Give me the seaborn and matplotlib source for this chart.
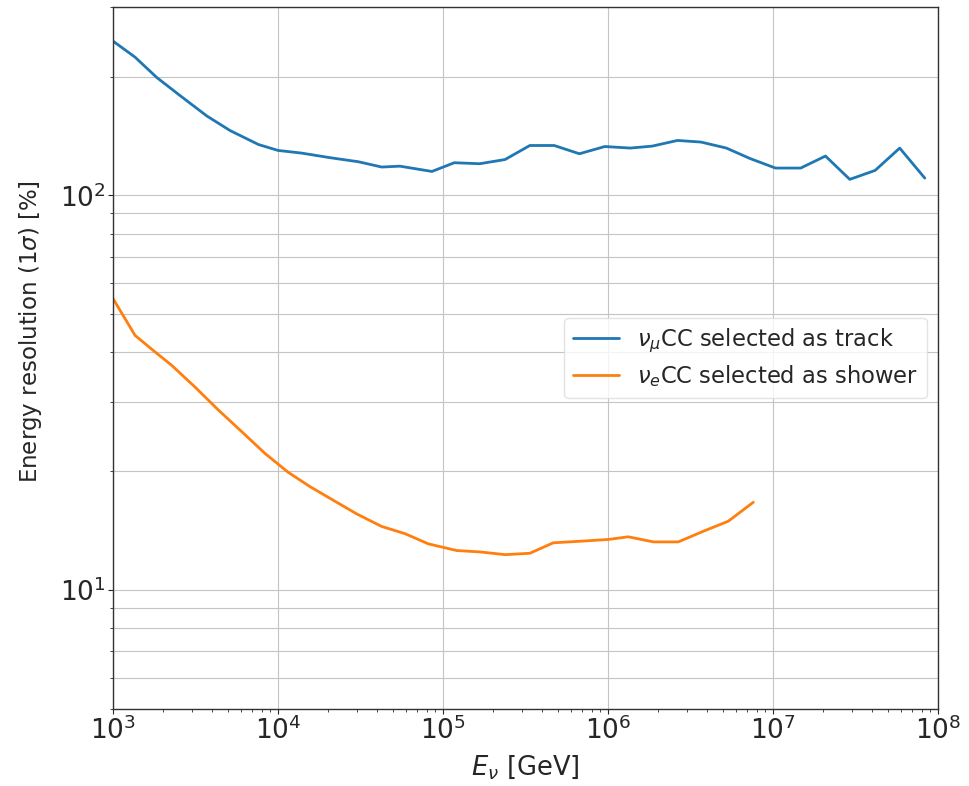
import numpy as np
import pandas as pd
import matplotlib
matplotlib.use("Agg")
import matplotlib.pyplot as plt
import seaborn as sns

# Neutrino energy [GeV] and 1-sigma energy resolution [%] per channel
track_energy = [1000, 1360, 1840, 2550, 3700, 5120, 7600, 10000, 13900, 20700,
                30700, 42500, 54800, 85700, 117000, 167000, 238000, 336000,
                472000, 671000, 957000, 1365000, 1850000, 2640000, 3660000,
                5220000, 7260000, 10350000, 14720000, 20800000, 29200000,
                41600000, 58600000, 83200000]
track_resolution = [246, 224, 199, 179, 159, 146, 134.6, 130, 128, 124.6,
                    121.7, 118, 118.6, 115, 121, 120.3, 123.3, 133.8,
                    133.8, 127.5, 133, 131.8, 133.3, 137.8, 136.5,
                    131.8, 124, 117.3, 117.3, 125.8, 109.8,
                    115.7, 131.8, 110.6]

shower_energy = [1000, 1360, 1750, 2270, 3140, 4350, 6030, 8340, 11500, 15600,
                 21600, 30000, 42500, 58900, 81500, 121000, 167000, 238000,
                 336000, 466000, 676000, 1005000, 1327000, 1884000, 2667000,
                 3784000, 5358000, 7603000]
shower_resolution = [54.8, 44.2, 40.5, 37.1, 32.7, 28.6, 25.2, 22.2, 19.9, 18.3,
                     16.9, 15.6, 14.5, 13.9, 13.1, 12.6, 12.5, 12.3,
                     12.4, 13.18, 13.3, 13.44, 13.65, 13.25, 13.25,
                     14.1, 14.95, 16.7]

labels = [r"$\nu_\mu$CC selected as track", r"$\nu_e$CC selected as shower"]

df = pd.concat([
    pd.DataFrame({"E": track_energy, "res": track_resolution, "channel": labels[0]}),
    pd.DataFrame({"E": shower_energy, "res": shower_resolution, "channel": labels[1]}),
], ignore_index=True)

sns.set_style("ticks")
plt.rcParams.update({
    "font.family": ["DejaVu Sans"],
    "text.color": "#262626",
    "axes.labelcolor": "#262626",
    "xtick.color": "#262626",
    "ytick.color": "#262626",
    "axes.edgecolor": "#333333",
    "mathtext.fontset": "dejavusans",
})

fig = plt.figure(figsize=(9.7, 7.86), dpi=100)
ax = fig.add_axes([0.1165, 0.098, 0.8505, 0.893])

sns.lineplot(data=df, x="E", y="res", hue="channel",
             palette=["#1f77b4", "#ff7f0e"], linewidth=2.0,
             estimator=None, sort=False, ax=ax)

ax.set_xscale("log")
ax.set_yscale("log")
ax.set_xlim(1e3, 1e8)
ax.set_ylim(5, 300)

ax.grid(True, which="major", axis="x", color="#c4c4c4", linewidth=0.8)
ax.grid(True, which="both", axis="y", color="#c4c4c4", linewidth=0.8)
ax.tick_params(which="major", labelsize=19, length=3.5, width=0.8,
               direction="out", pad=2)
ax.tick_params(which="minor", length=2, width=0.6)
ax.tick_params(axis="y", which="minor", labelleft=False)

for s in ax.spines.values():
    s.set_linewidth(1.0)
    s.set_visible(True)

ax.set_xlabel(r"$E_\nu$ [GeV]", fontsize=18.5, labelpad=6)
ax.set_ylabel(r"Energy resolution ($1\sigma$) [%]", fontsize=16.5)
ax.yaxis.set_label_coords(-0.084, 0.538)

ax.legend(loc="center right", fontsize=16.3, frameon=True, framealpha=0.8,
          edgecolor="#dddddd", handlelength=2.0, borderpad=0.4,
          labelspacing=0.35, handletextpad=0.8)

fig.savefig("out.png", dpi=100)
